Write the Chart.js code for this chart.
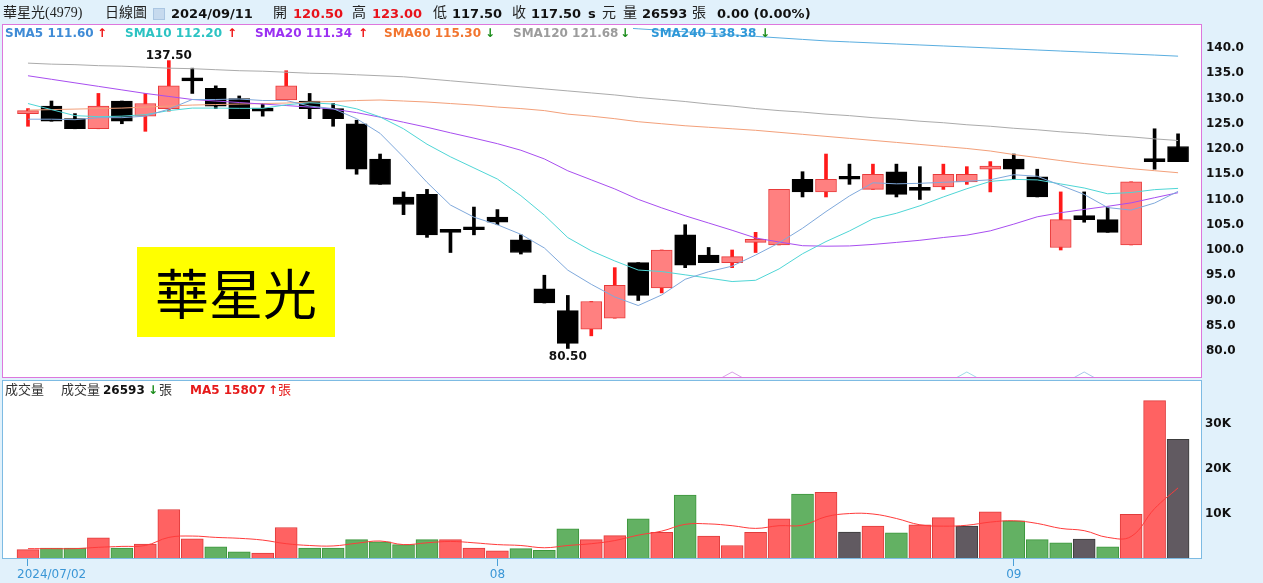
<!DOCTYPE html>
<html><head><meta charset="utf-8">
<script src="https://cdn.jsdelivr.net/npm/chart.js@4.4.1/dist/chart.umd.min.js"></script>
<style>
html,body{margin:0;padding:0;background:#e1f1fb;width:1263px;height:583px;overflow:hidden;position:relative;font-family:"DejaVu Sans",sans-serif;}
canvas{position:absolute;left:0;}
#pc{top:0;}
#vc{top:378px;}
.t{position:absolute;white-space:nowrap;line-height:16px;}
.b{font-weight:bold;font-family:"DejaVu Sans",sans-serif;}
.cj{font-family:"Liberation Serif","Noto Sans CJK TC",serif;}
#tag{position:absolute;left:137px;top:247px;width:198px;height:90px;background:#ffff00;font-family:"Noto Sans CJK TC",sans-serif;font-size:54px;line-height:90px;text-align:center;color:#000;}
#ico{position:absolute;left:153px;top:8px;width:10px;height:10px;background:#c6daee;border:1px solid #aac6e2;}
</style>
</head><body>
<canvas id="pc" width="1263" height="380"></canvas>
<canvas id="vc" width="1263" height="205"></canvas>

<!-- header -->
<div class="t cj" style="left:3px;top:5px;font-size:14px;color:#222">華星光(4979)</div>
<div class="t cj" style="left:105px;top:5px;font-size:14px;color:#222">日線圖</div>
<div id="ico"></div>
<div class="t b" style="left:171px;top:6px;font-size:13px;color:#111">2024/09/11</div>
<div class="t cj" style="left:273px;top:5px;font-size:14px;color:#222">開</div>
<div class="t b" style="left:293px;top:6px;font-size:13px;color:#e8121b">120.50</div>
<div class="t cj" style="left:352px;top:5px;font-size:14px;color:#222">高</div>
<div class="t b" style="left:372px;top:6px;font-size:13px;color:#e8121b">123.00</div>
<div class="t cj" style="left:433px;top:5px;font-size:14px;color:#222">低</div>
<div class="t b" style="left:452px;top:6px;font-size:13px;color:#111">117.50</div>
<div class="t cj" style="left:512px;top:5px;font-size:14px;color:#222">收</div>
<div class="t b" style="left:531px;top:6px;font-size:13px;color:#111">117.50</div>
<div class="t b" style="left:588px;top:6px;font-size:13px;color:#111">s</div>
<div class="t cj" style="left:602px;top:5px;font-size:14px;color:#222">元</div>
<div class="t cj" style="left:623px;top:5px;font-size:14px;color:#222">量</div>
<div class="t b" style="left:642px;top:6px;font-size:13px;color:#111">26593</div>
<div class="t cj" style="left:692px;top:5px;font-size:14px;color:#222">張</div>
<div class="t b" style="left:717px;top:6px;font-size:13px;color:#111">0.00 (0.00%)</div>

<!-- SMA legend -->
<div class="t b" style="left:5px;top:25px;font-size:12px;color:#3f8bd6">SMA5 111.60</div>
<div class="t b" style="left:97px;top:25px;font-size:12px;color:#ee1111">↑</div>
<div class="t b" style="left:125px;top:25px;font-size:12px;color:#2cc3c3">SMA10 112.20</div>
<div class="t b" style="left:227px;top:25px;font-size:12px;color:#ee1111">↑</div>
<div class="t b" style="left:255px;top:25px;font-size:12px;color:#9b30f2">SMA20 111.34</div>
<div class="t b" style="left:358px;top:25px;font-size:12px;color:#ee1111">↑</div>
<div class="t b" style="left:384px;top:25px;font-size:12px;color:#f2752f">SMA60 115.30</div>
<div class="t b" style="left:485px;top:25px;font-size:12px;color:#1a8c1a">↓</div>
<div class="t b" style="left:513px;top:25px;font-size:12px;color:#9c9c9c">SMA120 121.68</div>
<div class="t b" style="left:620px;top:25px;font-size:12px;color:#1a8c1a">↓</div>
<div class="t b" style="left:651px;top:25px;font-size:12px;color:#2f98d8">SMA240 138.38</div>
<div class="t b" style="left:760px;top:25px;font-size:12px;color:#1a8c1a">↓</div>

<div id="tag">華星光</div>

<!-- volume legend -->
<div class="t cj" style="left:5px;top:382px;font-size:13px;color:#333">成交量</div>
<div class="t cj" style="left:61px;top:382px;font-size:13px;color:#333">成交量</div>
<div class="t b" style="left:103px;top:382px;font-size:12px;color:#111">26593</div>
<div class="t b" style="left:148px;top:382px;font-size:12px;color:#1a8c1a">↓</div>
<div class="t cj" style="left:159px;top:382px;font-size:13px;color:#333">張</div>
<div class="t b" style="left:190px;top:382px;font-size:12px;color:#e61a1a">MA5 15807</div>
<div class="t b" style="left:268px;top:382px;font-size:12px;color:#e61a1a">↑</div>
<div class="t cj" style="left:278px;top:382px;font-size:13px;color:#e61a1a">張</div>

<script>
const dates = ['2024/07/02','2024/07/03','2024/07/04','2024/07/05','2024/07/08','2024/07/09','2024/07/10','2024/07/11','2024/07/12','2024/07/15',
 '2024/07/16','2024/07/17','2024/07/18','2024/07/19','2024/07/22','2024/07/23','2024/07/26','2024/07/29','2024/07/30','2024/07/31',
 '2024/08/01','2024/08/02','2024/08/05','2024/08/06','2024/08/07','2024/08/08','2024/08/09','2024/08/12','2024/08/13','2024/08/14',
 '2024/08/15','2024/08/16','2024/08/19','2024/08/20','2024/08/21','2024/08/22','2024/08/23','2024/08/26','2024/08/27','2024/08/28',
 '2024/08/29','2024/08/30','2024/09/02','2024/09/03','2024/09/04','2024/09/05','2024/09/06','2024/09/09','2024/09/10','2024/09/11'];

const openP = [127.0,128.5,126.0,124.0,129.5,126.5,128.0,134.0,132.0,130.0,
 127.5,129.7,129.5,128.0,125.0,118.0,110.5,111.0,103.5,104.5,
 106.5,102.0,92.3,88.0,84.3,86.5,97.5,92.5,103.0,99.0,
 97.5,101.5,101.0,114.0,111.5,114.5,112.0,115.5,112.0,112.5,
 113.5,116.0,118.0,114.5,100.5,106.8,106.0,101.0,117.5,120.5];
const highP = [128.0,129.5,127.0,131.0,129.5,131.0,137.5,136.0,132.5,130.5,
 129.0,135.5,131.0,129.0,125.7,119.0,111.5,112.0,104.0,108.5,
 108.0,103.0,95.0,91.0,89.8,96.5,97.5,100.0,105.0,100.5,
 100.0,103.5,112.0,115.5,119.0,117.0,117.0,117.0,116.5,117.0,
 116.5,117.5,119.0,116.0,111.5,111.5,108.5,113.5,124.0,123.0];
const lowP = [124.5,125.5,124.0,124.0,125.0,123.5,127.5,131.0,128.0,126.0,
 126.5,129.7,126.0,124.5,115.0,113.0,107.0,102.5,99.5,103.0,
 105.0,99.2,89.5,80.5,83.0,86.5,90.0,91.5,96.5,97.5,
 96.5,99.5,101.0,110.5,110.5,113.0,112.0,110.5,110.0,112.0,
 113.0,111.5,114.0,110.5,100.0,105.5,103.5,101.0,116.0,117.5];
const closeP = [127.5,125.5,124.0,128.5,125.5,129.0,132.5,133.5,128.5,126.0,
 127.5,132.5,128.0,126.0,116.0,113.0,109.0,103.0,103.5,104.0,
 105.5,99.5,89.5,81.5,89.8,93.0,91.0,100.0,97.0,97.5,
 98.7,102.0,112.0,111.5,114.0,114.0,115.0,111.0,111.8,115.0,
 115.0,116.5,116.0,110.5,106.0,106.0,103.5,113.5,117.5,117.5];

const sma5 = [125.9,125.9,125.8,126.2,126.2,126.5,127.9,129.8,129.8,129.9,
 129.6,129.6,128.5,128.0,126.0,123.1,118.4,113.4,108.9,106.5,
 105.0,103.1,100.4,96.0,93.2,90.7,89.0,91.1,94.2,95.7,
 96.8,99.0,101.4,104.3,107.6,110.7,113.3,113.1,113.2,113.4,
 113.6,113.9,114.9,114.6,112.8,111.0,108.4,107.9,109.3,111.6];
const sma10 = [129.0,127.8,126.6,126.4,126.5,126.8,127.6,128.1,128.1,128.05,
 128.05,128.75,129.15,128.9,127.95,126.35,124.0,120.95,118.45,116.25,
 114.05,110.75,106.9,102.45,99.83,97.83,96.03,95.73,95.08,94.43,
 93.75,94.0,96.25,99.25,101.67,103.77,106.17,107.27,108.75,110.5,
 112.13,113.58,113.98,113.88,113.08,112.28,111.13,111.38,111.95,112.2];
const sma20 = [134.5,133.8,133.1,132.4,131.7,131.0,130.4,129.8,129.5,129.2,
 128.9,128.6,128.3,127.9,127.2,126.3,125.3,124.3,123.2,122.15,
 121.05,119.75,118.03,115.68,113.89,112.09,110.02,108.34,106.77,105.34,
 103.9,102.38,101.58,100.85,100.75,100.8,101.1,101.5,101.92,102.47,
 102.94,103.79,105.12,106.57,107.38,108.03,108.65,109.33,110.35,111.34];
const sma60 = [127.7,127.8,127.9,128.0,128.1,128.3,128.5,128.7,128.8,128.9,
 129.0,129.1,129.3,129.4,129.6,129.7,129.5,129.3,129.0,128.7,
 128.3,128.0,127.6,126.9,126.5,126.0,125.4,125.0,124.6,124.3,
 124.0,123.7,123.3,122.9,122.5,122.1,121.7,121.3,120.9,120.5,
 120.1,119.6,118.9,118.3,117.7,117.1,116.6,116.1,115.7,115.3];
const sma120 = [137.0,136.8,136.7,136.5,136.4,136.2,136.0,135.9,135.7,135.5,
 135.4,135.2,135.0,134.9,134.7,134.5,134.3,133.9,133.5,133.1,
 132.7,132.3,131.9,131.5,131.1,130.7,130.2,129.8,129.4,128.9,
 128.5,128.0,127.6,127.3,126.9,126.6,126.2,125.9,125.5,125.2,
 124.8,124.5,124.1,123.8,123.4,123.1,122.7,122.4,122.0,121.68];
const sma240 = [151.6,151.3,151.0,150.7,150.4,150.1,149.8,149.5,149.2,148.9,
 148.6,148.3,148.0,147.7,147.4,147.1,146.8,146.5,146.2,145.9,
 145.6,145.3,145.0,144.7,144.4,144.1,143.8,143.5,143.2,142.9,
 142.6,142.3,142.0,141.7,141.4,141.2,141.0,140.8,140.6,140.4,
 140.2,140.0,139.8,139.6,139.4,139.2,139.0,138.8,138.6,138.38];

const volume = [2100,2400,2400,4700,2400,3300,11000,4500,2700,1600,
 1300,7000,2400,2400,4300,3800,3200,4300,4300,2400,
 1800,2300,1900,6700,4300,5200,8900,5900,14200,5100,
 3000,5900,8900,14400,14800,6000,7300,5800,7600,9200,
 7300,10500,8500,4300,3600,4400,2700,9900,35200,26593];
const volTrend = ['u','d','d','u','d','u','u','u','d','d',
 'u','u','d','d','d','d','d','d','u','u',
 'u','d','d','d','u','u','d','u','d','u',
 'u','u','u','d','u','f','u','d','u','u',
 'f','u','d','d','d','f','d','u','u','f'];
const volMA5 = [2300,2300,2300,2600,2800,3000,4800,5100,4800,4600,
 4200,3400,3000,2900,3500,4000,3200,3600,3900,3600,
 3200,3000,2500,3000,3400,4100,5300,6200,7700,7800,
 7400,6800,7400,7500,9400,10100,10000,9000,7600,7300,
 7500,8200,8500,7900,6800,6300,4800,5000,11200,15807];

const priceTicks = [80,85,90,95,100,105,110,115,120,125,130,135,140];
const volTicks = [10000,20000,30000];
const xTickIdx = [0,20,42];
const xTickText = ['2024/07/02','08','09'];
const highMarkIdx = 6;   // 137.50
const lowMarkIdx = 23;   // 80.50
const signalIdx = [30,40,45];

const X_MIN = -1.065, X_MAX = 50.02;
const isUp = i => closeP[i] > openP[i];

const smaDefs = [
  [sma5,'#7fa9dc'],[sma10,'#4fd6d6'],[sma20,'#a84ef0'],
  [sma60,'#f3a07a'],[sma120,'#ababab'],[sma240,'#5aaee0']
];

const pricePanel = {
  id:'pricePanel',
  beforeDraw(chart){
    const {ctx, chartArea:a} = chart;
    ctx.save(); ctx.fillStyle='#ffffff';
    ctx.fillRect(a.left, a.top, a.right-a.left, a.bottom-a.top);
    ctx.restore();
  },
  afterDatasetsDraw(chart){
    const {ctx, chartArea:a, scales:{x, y}} = chart;
    ctx.save();
    ctx.fillStyle='#ffffff';
    ctx.fillRect(a.left+1, a.top+1, 629, 16);
    ctx.fillStyle='#111'; ctx.font='bold 12px "DejaVu Sans"'; ctx.textAlign='center';
    ctx.textBaseline='alphabetic';
    ctx.fillText(highP[highMarkIdx].toFixed(2), x.getPixelForValue(highMarkIdx), y.getPixelForValue(highP[highMarkIdx]) - 2);
    ctx.textBaseline='top';
    ctx.fillText(lowP[lowMarkIdx].toFixed(2), x.getPixelForValue(lowMarkIdx), y.getPixelForValue(lowP[lowMarkIdx]) + 2);
    const cols = ['#d9a0e6','#9fdbe8','#a9c7ea'];
    signalIdx.forEach((idx,k)=>{
      const px = x.getPixelForValue(idx);
      ctx.strokeStyle = cols[k]; ctx.lineWidth = 1;
      ctx.beginPath();
      ctx.moveTo(px-10, a.bottom-0.5); ctx.lineTo(px, a.bottom-6); ctx.lineTo(px+10, a.bottom-0.5);
      ctx.stroke();
    });
    ctx.restore();
  },
  afterDraw(chart){
    const {ctx, chartArea:a} = chart;
    ctx.save(); ctx.strokeStyle='#dd77dd'; ctx.lineWidth=1;
    ctx.strokeRect(a.left-0.5, a.top+0.5, a.right-a.left, a.bottom-a.top-1);
    ctx.restore();
  }
};

new Chart(document.getElementById('pc'), {
  type:'bar',
  data:{ datasets:[
    ...smaDefs.map(([arr,col])=>({
      type:'line', data: arr.map((v,i)=>({x:i,y:v})), borderColor:col, borderWidth:1,
      pointRadius:0, tension:0, fill:false, order:0
    })),
    { data: dates.map((d,i)=>({x:i, y:[openP[i], closeP[i]]})),
      backgroundColor: c=> isUp(c.dataIndex) ? '#ff8080' : '#000000',
      borderColor: c=> isUp(c.dataIndex) ? '#e83a3a' : '#000000',
      borderWidth:1, borderSkipped:false, barThickness:21, minBarLength:3, grouped:false, order:1 },
    { data: dates.map((d,i)=>({x:i, y:[lowP[i], highP[i]]})),
      backgroundColor: c=> isUp(c.dataIndex) ? '#ff1a1a' : '#000000',
      borderWidth:0, barThickness:3, grouped:false, order:2 }
  ]},
  options:{
    responsive:false, animation:false, devicePixelRatio:1,
    layout:{padding:{left:3, top:24, right:0, bottom:2}},
    plugins:{legend:{display:false}, tooltip:{enabled:false}},
    scales:{
      x:{type:'linear', min:X_MIN, max:X_MAX, display:false, offset:false},
      y:{position:'right', min:74.65, max:144.75,
         grid:{display:false, drawTicks:false, tickLength:0}, border:{display:false},
         afterBuildTicks: s=>{ s.ticks = priceTicks.map(v=>({value:v})); },
         afterFit: s=>{ s.width = 61; s.paddingTop = 0; s.paddingBottom = 0; },
         ticks:{padding:4, color:'#111', font:{family:'DejaVu Sans', size:12, weight:'bold'},
                callback: v=> Number(v).toFixed(1)}
      }
    }
  },
  plugins:[pricePanel]
});

const volColor = {u:'#ff6262', d:'#63b163', f:'#615a61'};
const volBorder = {u:'#e03c3c', d:'#3c963c', f:'#3c3c3c'};

const volPanel = {
  id:'volPanel',
  beforeDraw(chart){
    const {ctx, chartArea:a} = chart;
    ctx.save(); ctx.fillStyle='#ffffff';
    ctx.fillRect(a.left, a.top, a.right-a.left, a.bottom-a.top);
    ctx.restore();
  },
  afterDraw(chart){
    const {ctx, chartArea:a, scales:{x}} = chart;
    ctx.save();
    ctx.strokeStyle='#7dbbe3'; ctx.lineWidth=1;
    ctx.strokeRect(a.left-0.5, a.top+0.5, a.right-a.left, a.bottom-a.top-1);
    ctx.fillStyle='#3a96d6'; ctx.font='12px "DejaVu Sans"'; ctx.textBaseline='middle';
    xTickIdx.forEach((idx,k)=>{
      const px = x.getPixelForValue(idx);
      if (k===0){ ctx.textAlign='left'; ctx.fillText(xTickText[k], px-11, a.bottom+16); }
      else { ctx.textAlign='center'; ctx.fillText(xTickText[k], px, a.bottom+16); }
    });
    ctx.restore();
  }
};

new Chart(document.getElementById('vc'), {
  type:'bar',
  data:{ datasets:[
    { type:'line', data: volMA5.map((v,i)=>({x:i,y:v})), borderColor:'#ff3b3b', borderWidth:1,
      pointRadius:0, tension:0.4, fill:false, order:0 },
    { data: volume.map((v,i)=>({x:i,y:v})),
      backgroundColor: c=> volColor[volTrend[c.dataIndex]],
      borderColor: c=> volBorder[volTrend[c.dataIndex]],
      borderWidth:1, borderSkipped:'bottom', barThickness:22, grouped:false, order:1 }
  ]},
  options:{
    responsive:false, animation:false, devicePixelRatio:1,
    layout:{padding:{left:3, top:2, right:0, bottom:0}},
    plugins:{legend:{display:false}, tooltip:{enabled:false}},
    scales:{
      x:{type:'linear', min:X_MIN, max:X_MAX, offset:false,
         grid:{display:true, offset:false, drawOnChartArea:false, drawTicks:true, tickLength:7, color:'#4a9fd8'},
         border:{display:false},
         ticks:{display:false},
         afterBuildTicks: s=>{ s.ticks = xTickIdx.map(v=>({value:v})); },
         afterFit: s=>{ s.height = 24; s.paddingLeft = 0; s.paddingRight = 0; }
      },
      y:{position:'right', min:0, max:39780,
         grid:{display:false, drawTicks:false, tickLength:0}, border:{display:false},
         afterBuildTicks: s=>{ s.ticks = volTicks.map(v=>({value:v})); },
         afterFit: s=>{ s.width = 61; s.paddingTop = 0; s.paddingBottom = 0; },
         ticks:{padding:3, color:'#111', font:{family:'DejaVu Sans', size:12, weight:'bold'},
                callback: v=> (v/1000)+'K'}
      }
    }
  },
  plugins:[volPanel]
});
</script>
</body></html>
